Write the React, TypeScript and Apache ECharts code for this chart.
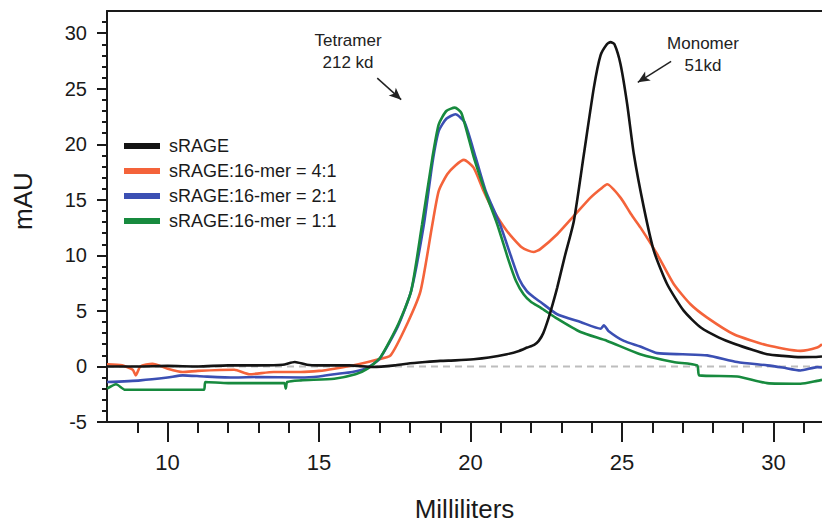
import React, { useEffect, useRef } from "react";
import * as echarts from "echarts";

// ---- data ----
const seriesNames = ["sRAGE", "sRAGE:16-mer = 4:1", "sRAGE:16-mer = 2:1", "sRAGE:16-mer = 1:1"];

const xBlack = [8, 9, 10, 11, 12, 13, 13.8, 14.2, 14.6, 15, 16, 16.8, 17.5, 17.9, 18.5, 19, 19.5, 20.1, 20.6, 21.2, 21.6, 21.87, 22.1, 22.25, 22.4, 22.58, 22.72, 22.86, 23.1, 23.41, 23.74, 24.07, 24.29, 24.5, 24.62, 24.75, 24.95, 25.17, 25.39, 25.72, 26.05, 26.49, 27.04, 27.6, 28.2, 28.75, 29.3, 29.79, 30.3, 30.89, 31.3, 31.6];
const yBlack = [0.0, 0.0, 0.05, 0.0, 0.1, 0.1, 0.15, 0.4, 0.15, 0.1, 0.1, -0.05, 0.1, 0.25, 0.4, 0.5, 0.55, 0.65, 0.8, 1.1, 1.4, 1.7, 1.95, 2.3, 3.0, 4.4, 5.7, 7.1, 9.8, 13.1, 19.1, 25.1, 28.0, 29.0, 29.2, 29.0, 27.2, 23.6, 19.1, 14.3, 10.4, 7.4, 5.0, 3.5, 2.6, 2.0, 1.5, 1.1, 0.95, 0.84, 0.85, 0.9];

const xRed = [8, 8.5, 8.85, 8.95, 9.1, 9.5, 10, 10.5, 11, 12.2, 12.7, 13.5, 14.4, 15, 15.5, 16.3, 16.9, 17.36, 17.91, 18.35, 18.74, 18.95, 19.23, 19.5, 19.78, 20.1, 20.43, 20.7, 21.2, 21.7, 22.08, 22.3, 22.86, 23.41, 23.96, 24.3, 24.51, 24.95, 25.3, 25.61, 26.16, 26.71, 27.26, 27.81, 28.69, 29.79, 30.89, 31.44, 31.6];
const yRed = [0.2, 0.1, -0.3, -0.8, 0.0, 0.25, -0.2, -0.5, -0.4, -0.3, -0.7, -0.5, -0.5, -0.4, -0.2, 0.2, 0.6, 1.0, 3.85, 6.8, 12.8, 15.8, 17.3, 18.1, 18.6, 17.9, 15.8, 14.3, 12.2, 10.7, 10.3, 10.56, 11.9, 13.55, 15.2, 16.0, 16.4, 15.2, 13.7, 12.5, 10.1, 7.4, 5.6, 4.4, 2.9, 1.9, 1.4, 1.7, 2.0];

const xBlue = [8, 9.1, 10, 10.5, 11.2, 12.2, 13, 14.4, 15, 15.5, 16.1, 16.6, 17.0, 17.6, 18.04, 18.46, 18.74, 18.95, 19.2, 19.5, 19.8, 20.17, 20.5, 20.97, 21.35, 21.6, 21.85, 22.1, 22.31, 22.86, 23.63, 24.3, 24.4, 24.55, 25.06, 25.6, 26.16, 27.0, 27.81, 28.8, 29.79, 30.3, 30.89, 31.44, 31.6];
const yBlue = [-1.4, -1.25, -1.0, -0.8, -0.9, -1.0, -0.95, -1.0, -0.9, -0.7, -0.5, -0.1, 0.7, 3.6, 6.8, 12.8, 18.3, 21.2, 22.3, 22.7, 22.0, 18.8, 15.8, 12.8, 9.8, 7.9, 6.8, 6.2, 5.8, 4.7, 4.0, 3.4, 3.7, 3.2, 2.3, 1.8, 1.2, 1.1, 1.0, 0.4, 0.1, -0.1, -0.36, -0.06, -0.1];

const xGreen = [8, 8.3, 8.6, 9.1, 10.5, 11.2, 11.25, 12, 13.3, 13.85, 13.9, 13.95, 14.4, 15.5, 16.2, 16.6, 17.03, 17.62, 18.04, 18.4, 18.74, 18.95, 19.2, 19.48, 19.7, 20.11, 20.5, 20.88, 21.25, 21.5, 21.75, 22.0, 22.31, 22.86, 23.63, 24.51, 25.6, 26.7, 27.48, 27.55, 28.8, 29.79, 30.89, 31.44, 31.6];
const yGreen = [-2.0, -1.6, -2.1, -2.1, -2.1, -2.1, -1.4, -1.5, -1.5, -1.5, -2.0, -1.4, -1.25, -1.1, -0.7, -0.2, 0.84, 3.85, 6.8, 12.8, 18.8, 21.8, 23.0, 23.3, 22.8, 18.8, 15.6, 12.8, 9.6, 7.7, 6.5, 5.8, 5.3, 4.3, 3.1, 2.3, 1.1, 0.4, 0.1, -0.8, -0.9, -1.5, -1.56, -1.3, -1.2];

const baselineX = [8, 31.6];
const baselineY = [0, 0];

const xMajorTicks = [10, 15, 20, 25, 30];
const yMajorTicks = [-5, 0, 5, 10, 15, 20, 25, 30];

const tetramerArrow = [[16.92, 25.96], [17.71, 24.02]];
const monomerArrow = [[26.62, 27.46], [25.52, 25.58]];

const colors = ["#141414", "#f4633a", "#3b4fb3", "#178a3e"];

const zip = (xs: number[], ys: number[]) => xs.map((x, i) => [x, ys[i]]);

export default function App() {
  const ref = useRef<HTMLDivElement>(null);
  useEffect(() => {
    if (!ref.current) return;
    const chart = echarts.init(ref.current, undefined, { renderer: "svg" });
    const xMinor: number[] = [];
    for (let v = 9; v <= 31; v++) if (v % 5 !== 0) xMinor.push(v);
    const yMinor: number[] = [];
    for (let v = -4; v <= 31; v++) if (v % 5 !== 0) yMinor.push(v);

    const font = "'Liberation Sans', Arial, sans-serif";
    const axisCommon = { min: 8, max: 31.6, type: "value" as const, splitLine: { show: false } };
    const yCommon = { min: -5, max: 32, type: "value" as const, splitLine: { show: false } };

    const lineSeries = (idx: number, xs: number[], ys: number[], z: number) => ({
      name: seriesNames[idx],
      type: "line",
      data: zip(xs, ys),
      showSymbol: false,
      symbol: "none",
      smooth: 0.2,
      color: colors[idx],
      lineStyle: { width: 2.6, color: colors[idx] },
      z,
    });

    const option: any = {
      animation: false,
      grid: { left: 107, right: 0, top: 11, bottom: 104 },
      legend: {
        orient: "vertical",
        left: 119,
        top: 132,
        data: seriesNames,
        icon: "rect",
        itemWidth: 36,
        itemHeight: 6,
        itemGap: 7,
        textStyle: { fontSize: 18, color: "#1a1a1a", fontFamily: font, padding: [0, 0, 0, 4] },
      },
      xAxis: [
        {
          ...axisCommon,
          position: "bottom",
          name: "Milliliters",
          nameLocation: "middle",
          nameGap: 74,
          nameTextStyle: { fontSize: 26, color: "#1a1a1a", fontFamily: font },
          axisLine: { onZero: false, lineStyle: { color: "#1a1a1a", width: 2 } },
          axisTick: { customValues: xMajorTicks, length: 20, lineStyle: { color: "#1a1a1a", width: 2 } },
          axisLabel: { customValues: xMajorTicks, fontSize: 22, margin: 29, color: "#1a1a1a", fontFamily: font },
        },
        {
          ...axisCommon,
          position: "bottom",
          axisLine: { show: false, onZero: false },
          axisTick: { customValues: xMinor, length: 11, lineStyle: { color: "#1a1a1a", width: 2 } },
          axisLabel: { show: false },
        },
        {
          ...axisCommon,
          position: "top",
          axisLine: { onZero: false, lineStyle: { color: "#1a1a1a", width: 2 } },
          axisTick: { show: false },
          axisLabel: { show: false },
        },
      ],
      yAxis: [
        {
          ...yCommon,
          position: "left",
          axisLine: { onZero: false, lineStyle: { color: "#1a1a1a", width: 2 } },
          axisTick: { customValues: yMajorTicks, length: 10, lineStyle: { color: "#1a1a1a", width: 2 } },
          axisLabel: { customValues: yMajorTicks, fontSize: 20, margin: 20, color: "#1a1a1a", fontFamily: font },
        },
        {
          ...yCommon,
          position: "left",
          axisLine: { show: false, onZero: false },
          axisTick: { customValues: yMinor, length: 5, lineStyle: { color: "#1a1a1a", width: 2 } },
          axisLabel: { show: false },
        },
      ],
      graphic: [
        {
          type: "text",
          x: 23,
          y: 201,
          rotation: Math.PI / 2,
          style: { text: "mAU", fontSize: 26, fill: "#1a1a1a", fontFamily: font, align: "center", verticalAlign: "middle" },
        },
        {
          type: "text",
          x: 348,
          y: 51,
          style: { text: "Tetramer\n212 kd", fontSize: 17, lineHeight: 22, fill: "#222", fontFamily: font, align: "center", verticalAlign: "middle" },
        },
        {
          type: "text",
          x: 703,
          y: 54,
          style: { text: "Monomer\n51kd", fontSize: 17, lineHeight: 22, fill: "#222", fontFamily: font, align: "center", verticalAlign: "middle" },
        },
      ],
      series: [
        {
          name: "baseline",
          type: "line",
          data: zip(baselineX, baselineY),
          showSymbol: false,
          symbol: "none",
          lineStyle: { color: "#bdbdbd", width: 2, type: [7, 5] },
          z: 1,
          silent: true,
          markLine: {
            silent: true,
            symbol: ["none", "arrow"],
            symbolSize: [8, 12],
            label: { show: false },
            lineStyle: { color: "#222", width: 1.5, type: "solid" },
            data: [
              [{ coord: tetramerArrow[0] }, { coord: tetramerArrow[1] }],
              [{ coord: monomerArrow[0] }, { coord: monomerArrow[1] }],
            ],
          },
        },
        lineSeries(1, xRed, yRed, 2),
        lineSeries(2, xBlue, yBlue, 3),
        lineSeries(3, xGreen, yGreen, 4),
        lineSeries(0, xBlack, yBlack, 5),
      ],
    };
    chart.setOption(option);
    return () => chart.dispose();
  }, []);
  return (
    <div
      ref={ref}
      style={{ position: "absolute", left: 0, top: 0, width: 822, height: 527, background: "#fff" }}
    />
  );
}
